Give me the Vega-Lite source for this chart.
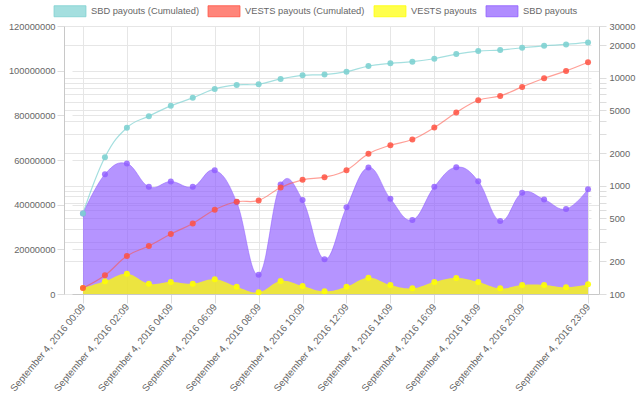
{
  "$schema": "https://vega.github.io/schema/vega-lite/v6.json",
  "width": 535,
  "height": 268,
  "autosize": {"type": "none"},
  "padding": {"left": 64, "top": 26, "right": 41, "bottom": 106},
  "background": "white",
  "config": {
    "view": {"stroke": null},
    "font": "Liberation Sans",
    "axis": {
      "labelFont": "Liberation Sans",
      "labelFontSize": 9.3,
      "labelColor": "#666666",
      "gridColor": "#e6e6e6",
      "tickColor": "#dddddd",
      "domainColor": "#c8c8c8",
      "labelOverlap": false,
      "labelFlush": false,
      "labelBound": false
    }
  },
  "data": {
    "values": [
      {"t": "September 4, 2016 00:09", "sbdCum": 556, "vestsCum": 2680000, "vests": 2680000, "sbd": 556},
      {"t": "September 4, 2016 01:09", "sbdCum": 1836, "vestsCum": 8350000, "vests": 5660000, "sbd": 1280},
      {"t": "September 4, 2016 02:09", "sbdCum": 3443, "vestsCum": 16990000, "vests": 9090000, "sbd": 1605},
      {"t": "September 4, 2016 03:09", "sbdCum": 4406, "vestsCum": 21470000, "vests": 4620000, "sbd": 979},
      {"t": "September 4, 2016 04:09", "sbdCum": 5484, "vestsCum": 26830000, "vests": 5370000, "sbd": 1096},
      {"t": "September 4, 2016 05:09", "sbdCum": 6500, "vestsCum": 31600000, "vests": 4620000, "sbd": 979},
      {"t": "September 4, 2016 06:09", "sbdCum": 7864, "vestsCum": 37710000, "vests": 6560000, "sbd": 1394},
      {"t": "September 4, 2016 07:09", "sbdCum": 8560, "vestsCum": 41290000, "vests": 3280000, "sbd": 707},
      {"t": "September 4, 2016 08:09", "sbdCum": 8680, "vestsCum": 41890000, "vests": 750000, "sbd": 151},
      {"t": "September 4, 2016 09:09", "sbdCum": 9720, "vestsCum": 47700000, "vests": 5810000, "sbd": 1029},
      {"t": "September 4, 2016 10:09", "sbdCum": 10500, "vestsCum": 51130000, "vests": 3580000, "sbd": 738},
      {"t": "September 4, 2016 11:09", "sbdCum": 10660, "vestsCum": 52320000, "vests": 1190000, "sbd": 210},
      {"t": "September 4, 2016 12:09", "sbdCum": 11350, "vestsCum": 55450000, "vests": 3280000, "sbd": 632},
      {"t": "September 4, 2016 13:09", "sbdCum": 12800, "vestsCum": 62760000, "vests": 7300000, "sbd": 1475},
      {"t": "September 4, 2016 14:09", "sbdCum": 13550, "vestsCum": 66630000, "vests": 4020000, "sbd": 759},
      {"t": "September 4, 2016 15:09", "sbdCum": 14030, "vestsCum": 69170000, "vests": 2530000, "sbd": 483},
      {"t": "September 4, 2016 16:09", "sbdCum": 14950, "vestsCum": 74530000, "vests": 5370000, "sbd": 979},
      {"t": "September 4, 2016 17:09", "sbdCum": 16500, "vestsCum": 81240000, "vests": 7160000, "sbd": 1485},
      {"t": "September 4, 2016 18:09", "sbdCum": 17590, "vestsCum": 86760000, "vests": 5370000, "sbd": 1104},
      {"t": "September 4, 2016 19:09", "sbdCum": 17980, "vestsCum": 88700000, "vests": 2530000, "sbd": 473},
      {"t": "September 4, 2016 20:09", "sbdCum": 18880, "vestsCum": 92720000, "vests": 4020000, "sbd": 862},
      {"t": "September 4, 2016 21:09", "sbdCum": 19690, "vestsCum": 96600000, "vests": 4020000, "sbd": 748},
      {"t": "September 4, 2016 22:09", "sbdCum": 20260, "vestsCum": 99880000, "vests": 2980000, "sbd": 610},
      {"t": "September 4, 2016 23:09", "sbdCum": 21140, "vestsCum": 103750000, "vests": 4320000, "sbd": 931}
    ]
  },
  "encoding": {
    "x": {
      "field": "t",
      "type": "ordinal",
      "scale": {"type": "point", "range": [8, 535]},
      "axis": {
        "title": null,
        "values": ["September 4, 2016 00:09", "September 4, 2016 02:09", "September 4, 2016 04:09", "September 4, 2016 06:09", "September 4, 2016 08:09", "September 4, 2016 10:09", "September 4, 2016 12:09", "September 4, 2016 14:09", "September 4, 2016 16:09", "September 4, 2016 18:09", "September 4, 2016 20:09", "September 4, 2016 23:09"],
        "labelAngle": -50,
        "labelAlign": "right",
        "labelBaseline": "middle",
        "labelFontSize": 9.8,
        "grid": true,
        "tickSize": 9,
        "labelPadding": 2
      }
    }
  },
  "layer": [
    {
      "layer": [
        {
          "mark": {"type": "area", "interpolate": "cardinal", "tension": -0.2, "fillOpacity": 0.65, "line": {"strokeWidth": 1, "strokeOpacity": 0.5}},
          "encoding": {
            "y": {
              "field": "sbd", "type": "quantitative",
              "scale": {"type": "log", "domain": [100, 30000], "nice": false},
              "axis": {
                "orient": "right", "title": null, "format": "d",
                "values": [100, 200, 300, 400, 500, 600, 700, 800, 900, 1000, 2000, 3000, 4000, 5000, 6000, 7000, 8000, 9000, 10000, 20000, 30000],
                "labelExpr": "indexof([100, 200, 500, 1000, 2000, 5000, 10000, 20000, 30000], datum.value) >= 0 ? datum.label : ''",
                "grid": true, "tickSize": 7, "labelPadding": 3
              }
            },
            "y2": {"datum": 100},
            "color": {
              "datum": "SBD payouts", "type": "nominal",
              "scale": {
                "domain": ["SBD payouts (Cumulated)", "VESTS payouts (Cumulated)", "VESTS payouts", "SBD payouts"],
                "range": ["#7ed1d1", "#ff5141", "#ffff00", "#8e5bff"]
              },
              "legend": {
                "orient": "none", "legendX": 0, "legendY": -21,
                "direction": "horizontal", "title": null,
                "symbolType": "M-2.9,-1H2.9V1H-2.9Z",
                "symbolSize": 121,
                "labelFont": "Liberation Sans", "labelFontSize": 9.3, "labelColor": "#666666",
                "labelOffset": 15, "columnPadding": 7,
                "encode": {
                  "symbols": {
                    "update": {
                      "fill": {"scale": "color", "field": "value"},
                      "fillOpacity": {"value": 0.7},
                      "stroke": {"scale": "color", "field": "value"},
                      "strokeOpacity": {"value": 0.8},
                      "strokeWidth": {"value": 1},
                      "opacity": {"value": 1}
                    }
                  }
                }
              }
            }
          }
        },
        {
          "mark": {"type": "point", "filled": true, "size": 36, "opacity": 0.8},
          "encoding": {
            "y": {"field": "sbd", "type": "quantitative"},
            "color": {"datum": "SBD payouts", "type": "nominal"}
          }
        },
        {
          "mark": {"type": "line", "interpolate": "cardinal", "tension": -0.2, "strokeWidth": 1.2, "opacity": 0.7},
          "encoding": {
            "y": {"field": "sbdCum", "type": "quantitative"},
            "color": {"datum": "SBD payouts (Cumulated)", "type": "nominal"}
          }
        },
        {
          "mark": {"type": "point", "filled": true, "size": 36, "opacity": 0.9},
          "encoding": {
            "y": {"field": "sbdCum", "type": "quantitative"},
            "color": {"datum": "SBD payouts (Cumulated)", "type": "nominal"}
          }
        }
      ]
    },
    {
      "layer": [
        {
          "mark": {"type": "area", "interpolate": "cardinal", "tension": -0.2, "fillOpacity": 0.75},
          "encoding": {
            "y": {
              "field": "vests", "type": "quantitative",
              "scale": {"domain": [0, 120000000], "nice": false},
              "axis": {
                "orient": "left", "title": null, "format": "d",
                "values": [0, 20000000, 40000000, 60000000, 80000000, 100000000, 120000000],
                "grid": true, "tickSize": 7, "labelPadding": 2
              }
            },
            "color": {"datum": "VESTS payouts", "type": "nominal"}
          }
        },
        {
          "mark": {"type": "point", "filled": true, "size": 36, "opacity": 0.9},
          "encoding": {
            "y": {"field": "vests", "type": "quantitative"},
            "color": {"datum": "VESTS payouts", "type": "nominal"}
          }
        },
        {
          "mark": {"type": "line", "interpolate": "cardinal", "tension": -0.2, "strokeWidth": 1.2, "opacity": 0.55},
          "encoding": {
            "y": {"field": "vestsCum", "type": "quantitative"},
            "color": {"datum": "VESTS payouts (Cumulated)", "type": "nominal"}
          }
        },
        {
          "mark": {"type": "point", "filled": true, "size": 36, "opacity": 0.85},
          "encoding": {
            "y": {"field": "vestsCum", "type": "quantitative"},
            "color": {"datum": "VESTS payouts (Cumulated)", "type": "nominal"}
          }
        }
      ]
    }
  ],
  "resolve": {"scale": {"y": "independent"}}
}
